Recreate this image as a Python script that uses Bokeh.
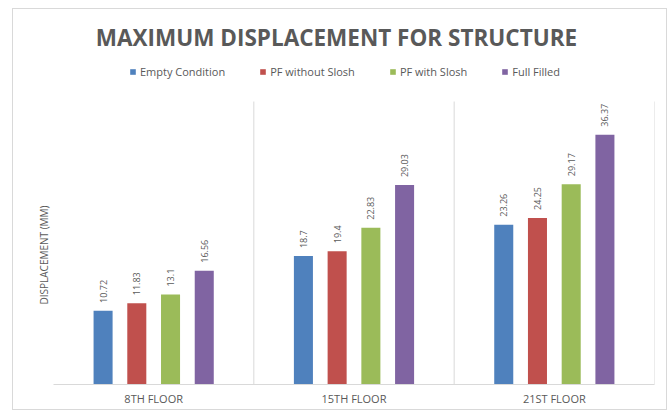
import math

from bokeh.core.properties import value
from bokeh.embed import file_html
from bokeh.models import (ColumnDataSource, FactorRange, Label, LabelSet,
                          Legend, LegendItem, Range1d, Title)
from bokeh.plotting import figure
from bokeh.resources import INLINE
from bokeh.transform import dodge

# Data
floors = ["8TH FLOOR", "15TH FLOOR", "21ST FLOOR"]
series_names = ["Empty Condition", "PF without Slosh", "PF with Slosh", "Full Filled"]
empty_condition = [10.72, 18.7, 23.26]
pf_without_slosh = [11.83, 19.4, 24.25]
pf_with_slosh = [13.1, 22.83, 29.17]
full_filled = [16.56, 29.03, 36.37]

colors = ["#4F81BD", "#C0504D", "#9BBB59", "#8064A2"]
offsets = [-0.2525, -0.0842, 0.0842, 0.2525]
text_gray = "#595959"
line_gray = "#d9d9d9"
font = "Open Sans"

# Plot area reaches up to the chart border; the title and legend sit in its
# upper part, above the top of the value scale used by the bars.
Y_TOP = 54.6
PLOT_TOP = 41.2

p = figure(
    width=655, height=402,
    x_range=FactorRange(*floors, range_padding=0),
    y_range=Range1d(0, Y_TOP),
    output_backend="svg", toolbar_location=None,
    min_border_left=40, min_border_right=14,
    min_border_top=0, min_border_bottom=27,
)
p.margin = (8, 3, 4, 12)
p.styles = {"border": "1px solid #d9d9d9"}
p.outline_line_color = None
p.background_fill_color = "white"
p.border_fill_color = "white"
p.xgrid.visible = False
p.ygrid.visible = False
p.yaxis.visible = False

# Category axis
xa = p.xaxis[0]
xa.axis_line_color = line_gray
xa.major_tick_line_color = None
xa.minor_tick_line_color = None
xa.major_label_text_font = font
xa.major_label_text_font_size = "11px"
xa.major_label_text_color = text_gray
xa.major_label_standoff = 0

# Value axis title, placed alongside the bar area
p.add_layout(Title(
    text="DISPLACEMENT (MM)", align="left", offset=80, standoff=5,
    text_font=font, text_font_size="10px", text_font_style="normal",
    text_color=text_gray,
), "left")

# Separators between floors
bounds = [1.0, 2.0, 3.0]
p.segment(x0=bounds, x1=bounds, y0=[0] * 3, y1=[PLOT_TOP] * 3,
          line_color=line_gray, line_width=1)

source = ColumnDataSource(dict(
    floor=floors,
    s0=empty_condition, s1=pf_without_slosh, s2=pf_with_slosh, s3=full_filled,
    t0=[str(v) for v in empty_condition],
    t1=[str(v) for v in pf_without_slosh],
    t2=[str(v) for v in pf_with_slosh],
    t3=[str(v) for v in full_filled],
))

items = []
for i, (name, color, off) in enumerate(zip(series_names, colors, offsets)):
    xs = dodge("floor", off, range=p.x_range)
    r = p.vbar(x=xs, top=f"s{i}", width=0.095, source=source,
               fill_color=color, line_color=None)
    items.append(LegendItem(label=name, renderers=[r]))
    p.add_layout(LabelSet(
        x=xs, y=f"s{i}", text=f"t{i}", source=source,
        angle=math.pi / 2, text_align="left", text_baseline="middle",
        y_offset=8, text_font=value(font), text_font_size="9px",
        text_color=text_gray,
    ))

legend = Legend(
    items=items, orientation="horizontal", location=(76, 305),
    label_text_font=font, label_text_font_size="11px",
    label_text_color=text_gray, glyph_width=7, glyph_height=7,
    label_standoff=4, spacing=34, padding=0, margin=0,
    border_line_color=None, background_fill_alpha=0,
    label_height=12,
)
p.add_layout(legend, "center")

# Chart title
p.add_layout(Label(
    x=283, y=347, x_units="screen", y_units="screen",
    text="MAXIMUM DISPLACEMENT FOR STRUCTURE",
    text_align="center", text_baseline="middle",
    text_font=font, text_font_size="22.5px", text_font_style="bold",
    text_color=text_gray,
))

open("out.html", "w").write(file_html(p, INLINE))
